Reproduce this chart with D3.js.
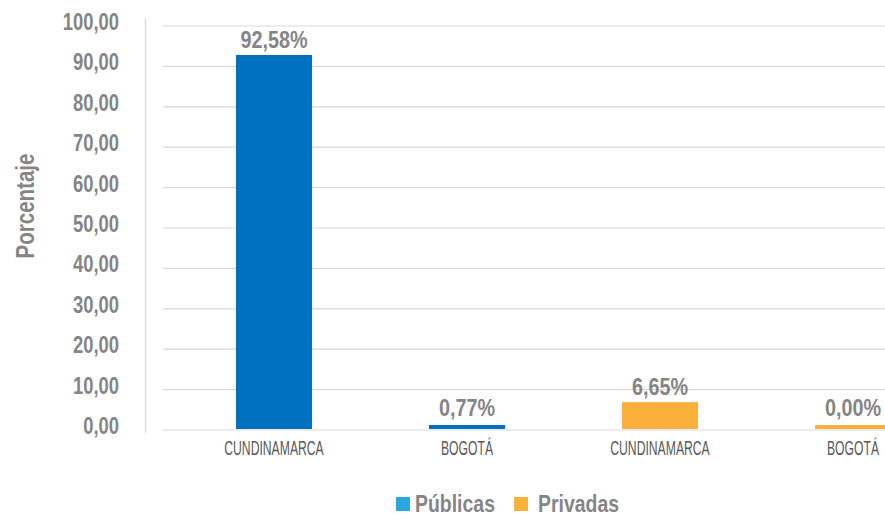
<!DOCTYPE html>
<html>
<head>
<meta charset="utf-8">
<script src="https://cdn.jsdelivr.net/npm/d3@7"></script>
<style>
  body { margin: 0; background: #fff; }
  text { font-family: "Liberation Sans Narrow", "Liberation Sans", Arial, sans-serif; }
</style>
</head>
<body>
<div id="chart"></div>
<script>
var svgWidth = 885;
var svgHeight = 515;

// data
var categories = ["CUNDINAMARCA", "BOGOTÁ", "CUNDINAMARCA", "BOGOTÁ"];
var seriesOf = ["Públicas", "Públicas", "Privadas", "Privadas"];
var values = [92.58, 0.77, 6.65, 0.00];
var yTicks = [0, 10, 20, 30, 40, 50, 60, 70, 80, 90, 100];
var seriesNames = ["Públicas", "Privadas"];

var barColor = { "Públicas": "#0070c0", "Privadas": "#fbb03b" };
var legendColor = { "Públicas": "#29a8e0", "Privadas": "#fbb03b" };

var svg = d3.select("#chart")
  .append("svg")
  .attr("width", svgWidth)
  .attr("height", svgHeight);

var y = d3.scaleLinear().domain([0, 100]).range([430, 26]);
var x = d3.scaleBand()
  .domain(d3.range(categories.length))
  .range([177.5, 949.5])
  .paddingInner(0.606)
  .paddingOuter(0.303);

var fmt = function(v) { return d3.format(".2f")(v).replace(".", ","); };

// squeeze text horizontally to mimic the condensed font
function squeeze(k) {
  return function(sel) {
    sel.each(function() {
      var w = this.getComputedTextLength();
      d3.select(this).attr("textLength", w * k).attr("lengthAdjust", "spacingAndGlyphs");
    });
  };
}

// gridlines
svg.append("g").selectAll("line")
  .data(yTicks)
  .enter().append("line")
  .attr("x1", 163).attr("x2", svgWidth)
  .attr("y1", d => y(d)).attr("y2", d => y(d))
  .attr("stroke", "#d9d9d9")
  .attr("stroke-width", 1.2);

// vertical axis line
svg.append("line")
  .attr("x1", 145.5).attr("x2", 145.5)
  .attr("y1", 18).attr("y2", 433)
  .attr("stroke", "#d9d9d9")
  .attr("stroke-width", 1.2);

// y tick labels
svg.append("g").selectAll("text")
  .data(yTicks)
  .enter().append("text")
  .attr("x", 119)
  .attr("y", d => y(d) - 4)
  .attr("dy", "0.35em")
  .attr("text-anchor", "end")
  .style("font-size", "23px")
  .style("font-weight", "bold")
  .attr("fill", "#858585")
  .text(d => fmt(d))
  .call(squeeze(0.8));

// y title
svg.append("text")
  .attr("transform", "translate(34, 206) rotate(-90)")
  .attr("text-anchor", "middle")
  .attr("textLength", 105)
  .attr("lengthAdjust", "spacingAndGlyphs")
  .style("font-size", "25px")
  .style("font-weight", "bold")
  .attr("fill", "#858585")
  .text("Porcentaje");

// bars
svg.append("g").selectAll("rect")
  .data(values)
  .enter().append("rect")
  .attr("x", (d, i) => x(i))
  .attr("width", x.bandwidth())
  .attr("y", d => Math.min(y(d), y(0) - 4) - 1)
  .attr("height", d => Math.max(y(0) - y(d), 4))
  .attr("fill", (d, i) => barColor[seriesOf[i]]);

// value labels
svg.append("g").selectAll("text")
  .data(values)
  .enter().append("text")
  .attr("x", (d, i) => x(i) + x.bandwidth() / 2)
  .attr("y", d => Math.min(y(d) - 8, 416))
  .attr("text-anchor", "middle")
  .style("font-size", "23px")
  .style("font-weight", "bold")
  .attr("fill", "#858585")
  .text(d => fmt(d) + "%")
  .call(squeeze(0.86));

// category labels
svg.append("g").selectAll("text")
  .data(categories)
  .enter().append("text")
  .attr("x", (d, i) => x(i) + x.bandwidth() / 2)
  .attr("y", 455)
  .attr("text-anchor", "middle")
  .style("font-size", "21px")
  .attr("fill", "#595959")
  .text(d => d)
  .call(squeeze(0.58));

// legend
var legendX = [396, 514];
var legend = svg.append("g").selectAll("g")
  .data(seriesNames)
  .enter().append("g")
  .attr("transform", (d, i) => `translate(${legendX[i]}, 497)`);

legend.append("rect")
  .attr("width", 14).attr("height", 14)
  .attr("fill", d => legendColor[d]);

legend.append("text")
  .attr("x", (d, i) => i === 0 ? 19 : 24)
  .attr("y", 15)
  .style("font-size", "24px")
  .style("font-weight", "bold")
  .attr("fill", "#858585")
  .text(d => d)
  .call(squeeze(0.81));
</script>
</body>
</html>
